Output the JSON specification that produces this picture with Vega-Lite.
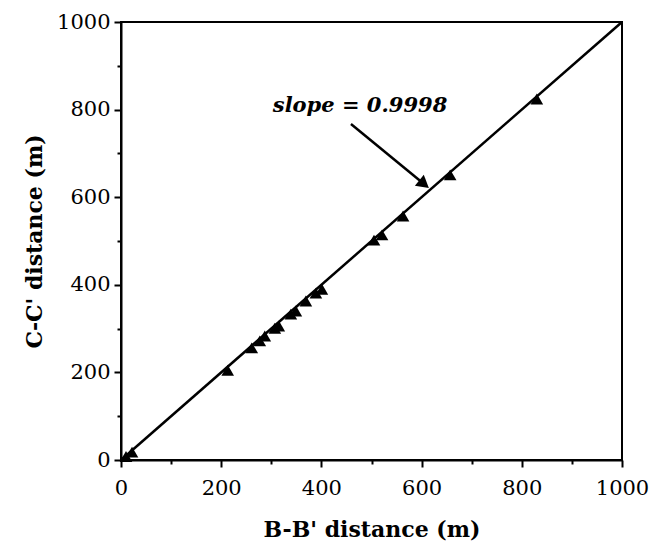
{
  "$schema": "https://vega.github.io/schema/vega-lite/v6.json",
  "width": 501,
  "height": 438,
  "autosize": {"type": "none"},
  "padding": {"left": 121, "top": 22, "right": 39, "bottom": 92},
  "background": "white",
  "config": {
    "view": {"stroke": "black", "strokeWidth": 2},
    "axis": {
      "grid": false,
      "domainColor": "black",
      "domainWidth": 2,
      "tickColor": "black",
      "tickWidth": 2,
      "labelFont": "DejaVu Serif",
      "labelFontSize": 21,
      "labelColor": "black",
      "labelFlush": false,
      "labelOverlap": false,
      "titleFont": "DejaVu Serif",
      "titleFontWeight": "bold",
      "titleFontSize": 22,
      "titleColor": "black",
      "format": "d"
    }
  },
  "datasets": {
    "points": [
      {"b": 10, "c": 8},
      {"b": 22, "c": 18},
      {"b": 213, "c": 205},
      {"b": 261, "c": 256},
      {"b": 277, "c": 272},
      {"b": 287, "c": 283},
      {"b": 307, "c": 301},
      {"b": 315, "c": 306},
      {"b": 339, "c": 333},
      {"b": 349, "c": 340},
      {"b": 369, "c": 363},
      {"b": 389, "c": 381},
      {"b": 401, "c": 390},
      {"b": 505, "c": 502},
      {"b": 521, "c": 514},
      {"b": 563, "c": 557},
      {"b": 657, "c": 651},
      {"b": 830, "c": 824}
    ],
    "fit": [{"b": 0, "c": 0}, {"b": 1000, "c": 1000}],
    "arrow": [{"b": 459, "c": 767, "b2": 603, "c2": 632}],
    "head": [{"b": 605, "c": 630}],
    "label": [{"b": 303, "c": 795, "text": "slope = 0.9998"}]
  },
  "encoding": {
    "x": {
      "field": "b",
      "type": "quantitative",
      "scale": {"domain": [0, 1000], "nice": false},
      "axis": {
        "title": "B-B' distance (m)",
        "values": [0, 100, 200, 300, 400, 500, 600, 700, 800, 900, 1000],
        "labelExpr": "datum.value % 200 === 0 ? datum.label : ''",
        "tickSize": {"condition": {"test": "datum.value % 200 === 0", "value": 7}, "value": 4},
        "labelPadding": 10,
        "titlePadding": 21
      }
    },
    "y": {
      "field": "c",
      "type": "quantitative",
      "scale": {"domain": [0, 1000], "nice": false},
      "axis": {
        "title": "C-C' distance (m)",
        "values": [0, 100, 200, 300, 400, 500, 600, 700, 800, 900, 1000],
        "labelExpr": "datum.value % 200 === 0 ? datum.label : ''",
        "tickSize": {"condition": {"test": "datum.value % 200 === 0", "value": 7}, "value": 4},
        "labelPadding": 4,
        "titlePadding": 10
      }
    }
  },
  "layer": [
    {
      "data": {"name": "fit"},
      "mark": {"type": "line", "color": "black", "strokeWidth": 2.5}
    },
    {
      "data": {"name": "points"},
      "mark": {"type": "point", "shape": "triangle-up", "filled": true, "color": "black", "opacity": 1, "size": 160}
    },
    {
      "data": {"name": "arrow"},
      "mark": {"type": "rule", "color": "black", "strokeWidth": 2.5},
      "encoding": {
        "x2": {"field": "b2"},
        "y2": {"field": "c2"}
      }
    },
    {
      "data": {"name": "head"},
      "mark": {"type": "point", "shape": "triangle-right", "filled": true, "color": "black", "opacity": 1, "size": 200, "angle": 39}
    },
    {
      "data": {"name": "label"},
      "mark": {"type": "text", "align": "left", "baseline": "alphabetic", "font": "DejaVu Serif", "fontSize": 21, "fontWeight": "bold", "fontStyle": "italic", "color": "black"},
      "encoding": {"text": {"field": "text"}}
    }
  ]
}
